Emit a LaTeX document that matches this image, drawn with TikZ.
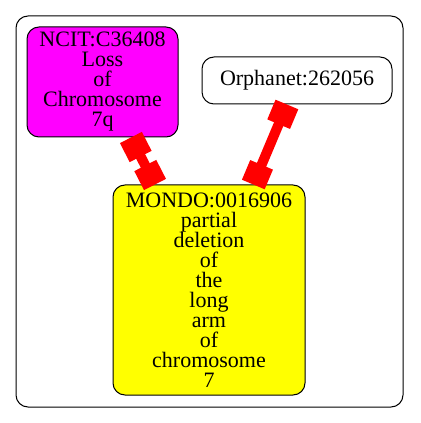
\documentclass[tikz,border=0pt]{standalone}
\usepackage{fontspec}
\setmainfont{Liberation Serif}
\usepackage{tikz}
\usetikzlibrary{arrows.meta}
\definecolor{ncitfill}{RGB}{255,0,255}
\definecolor{mondofill}{RGB}{255,255,0}
\definecolor{edgered}{RGB}{255,0,0}
\tikzset{
  term/.style={draw, rounded corners=9pt, align=center, inner sep=0pt,
    line width=0.75pt, font=\fontsize{16.5}{15}\selectfont},
  boxtip/.tip={Square[length=16pt,width=18.5pt]}
}

\begin{document}
\begin{tikzpicture}[x=0.75pt,y=-0.75pt]
  \useasboundingbox (0,0) rectangle (420,423);
  \draw[rounded corners=9pt, line width=0.75pt] (16,16) rectangle (403,407);
  \node[term, fill=ncitfill, minimum width=113.25pt, minimum height=82.5pt] (ncit) at (102.5,82)
    {NCIT:C36408\\Loss\\of\\Chromosome\\7q};
  \node[term, minimum width=142.5pt, minimum height=35.25pt] (orpha) at (297,80.5) {Orphanet:262056};
  \node[term, fill=mondofill, minimum width=144pt, minimum height=157.5pt] (mondo) at (209,290)
    {MONDO:0016906\\partial\\deletion\\of\\the\\long\\arm\\of\\chromosome\\7};
  \path[edgered, line width=7.5pt, boxtip-boxtip]
    (ncit) edge (mondo)
    (orpha) edge (mondo);
\end{tikzpicture}
\end{document}
